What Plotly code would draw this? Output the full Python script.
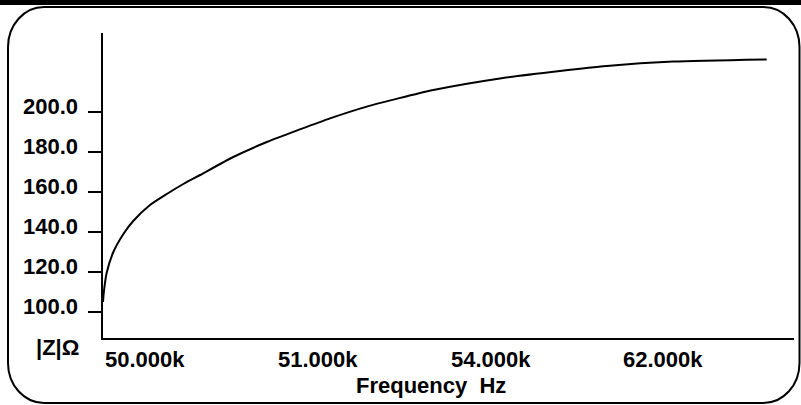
import plotly.graph_objects as go

# ---- data ----
sweep_pos = [0.0, 0.005, 0.021, 0.060, 0.118, 0.175, 0.272, 0.369, 0.465, 0.562, 0.754, 0.948,
             1.140, 1.314, 1.527, 1.912, 2.298, 2.645, 2.916, 3.301, 3.842]
impedance = [105, 110, 119.5, 130, 139, 145.5, 153.5, 159, 164, 168.5, 177.5, 185,
             191.3, 196.8, 202.7, 211, 216.8, 220.5, 223, 225.2, 226.3]
y_ticks = [100, 120, 140, 160, 180, 200]
y_tick_labels = ["100.0", "120.0", "140.0", "160.0", "180.0", "200.0"]
x_label_pos = [0, 1, 2, 3]
x_labels = ["50.000k", "51.000k", "54.000k", "62.000k"]

W, H = 801, 405
L, R, T, B = 103, 794, 33, 338
FONT = dict(family="Liberation Sans, Arial, sans-serif", size=22, color="black")

def px2paper(px, py):
    return (px - L) / (R - L), (B - py) / (B - T)

fig = go.Figure()
fig.add_trace(go.Scatter(x=sweep_pos, y=impedance, mode="lines",
                         line=dict(color="black", width=2, shape="spline", smoothing=0.6),
                         hoverinfo="skip", showlegend=False))

# rounded border path (pixel -> paper)
x0, x1, y0, y1 = 8, 799.5, 7, 403
rx, ry = 36, 40
k = 0.5523
def P(px, py):
    a, b = px2paper(px, py)
    return f"{a:.5f},{b:.5f}"
path = (
    f"M{P(x0 + rx, y0)} L{P(x1 - rx, y0)} "
    f"C{P(x1 - rx + k*rx, y0)} {P(x1, y0 + ry - k*ry)} {P(x1, y0 + ry)} "
    f"L{P(x1, y1 - ry)} "
    f"C{P(x1, y1 - ry + k*ry)} {P(x1 - rx + k*rx, y1)} {P(x1 - rx, y1)} "
    f"L{P(x0 + rx, y1)} "
    f"C{P(x0 + rx - k*rx, y1)} {P(x0, y1 - ry + k*ry)} {P(x0, y1 - ry)} "
    f"L{P(x0, y0 + ry)} "
    f"C{P(x0, y0 + ry - k*ry)} {P(x0 + rx - k*rx, y0)} {P(x0 + rx, y0)} Z"
)
shapes = [
    dict(type="path", xref="paper", yref="paper", path=path,
         line=dict(color="black", width=2), layer="below"),
]
bx0, by0 = px2paper(0, 0)
bx1, by1 = px2paper(W, 5)
shapes.append(dict(type="rect", xref="paper", yref="paper", x0=bx0, x1=bx1, y0=by1, y1=by0,
                   fillcolor="black", line=dict(width=0)))

annotations = []
for v, t in zip(y_ticks, y_tick_labels):
    annotations.append(dict(x=0, y=v, xref="x", yref="y", text=f"<b>{t}</b>", showarrow=False,
                            xanchor="right", yanchor="middle", xshift=-23, yshift=6, font=FONT))
for v, t in zip(x_label_pos, x_labels):
    annotations.append(dict(x=v, y=0, xref="x", yref="paper", text=f"<b>{t}</b>", showarrow=False,
                            xanchor="left", yanchor="middle", yshift=-21, font=FONT))
ax, ay = px2paper(81, 347)
annotations.append(dict(x=ax, y=ay, xref="paper", yref="paper", text="<b>|Z|Ω</b>", showarrow=False,
                        xanchor="right", yanchor="middle", font=FONT))
fx, fy = px2paper(431, 385)
annotations.append(dict(x=fx, y=fy, xref="paper", yref="paper", text="<b>Frequency\u00a0\u00a0Hz</b>",
                        showarrow=False, xanchor="center", yanchor="middle", font=FONT))

fig.update_layout(
    width=W, height=H, margin=dict(l=L, r=W - R, t=T, b=H - B),
    paper_bgcolor="white", plot_bgcolor="white",
    shapes=shapes, annotations=annotations, showlegend=False,
    xaxis=dict(range=[0, 4], showgrid=False, zeroline=False, showline=True, linecolor="black",
               linewidth=2, showticklabels=False, ticks="", fixedrange=True),
    yaxis=dict(range=[87, 239.5], showgrid=False, zeroline=False, showline=True, linecolor="black",
               linewidth=2, tickvals=y_ticks, showticklabels=False, ticks="outside", ticklen=13,
               tickwidth=2, tickcolor="black", fixedrange=True),
)
fig.write_html("out.html", config={"displayModeBar": False},
               post_script="document.body.style.margin='0';document.body.style.overflow='hidden';")
